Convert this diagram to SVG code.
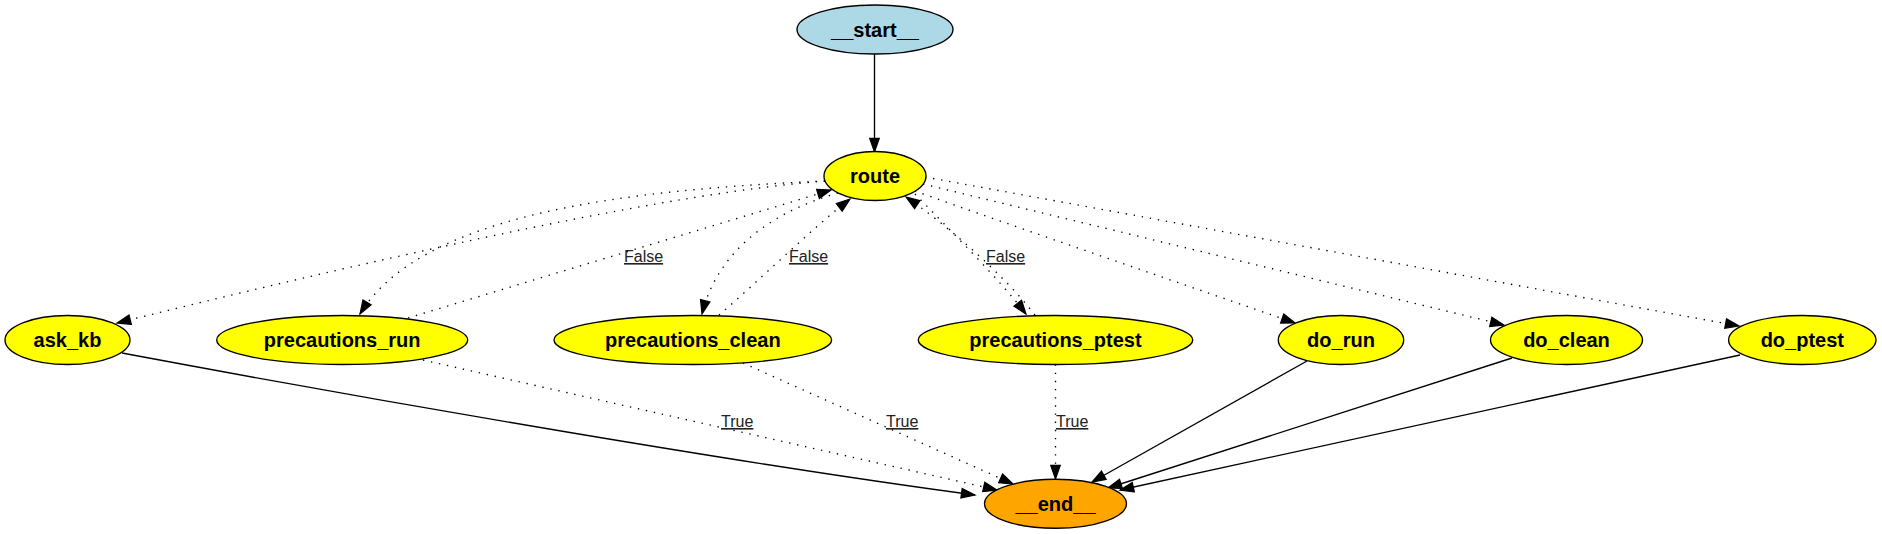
<svg xmlns="http://www.w3.org/2000/svg" width="1882" height="534" viewBox="0 0 1882 534">
<style>
.node ellipse{stroke:#000;stroke-width:1.36}
.node text{font-family:"Liberation Sans",Arial,sans-serif;font-weight:bold;font-size:20px;text-anchor:middle;fill:#000}
.e{fill:none;stroke:#000;stroke-width:1.36}
.d{stroke-dasharray:1.36,6.8}
.lbl{font-family:"Liberation Sans",Arial,sans-serif;font-size:16px;fill:#222;text-decoration:underline}
</style>
<defs>
<marker id="ah" markerUnits="userSpaceOnUse" markerWidth="16" markerHeight="12" refX="13.6" refY="5.5" orient="auto" overflow="visible">
<path d="M0,0.7 L13.6,5.5 L0,10.3 z" fill="#000" stroke="#000" stroke-width="1.2"/>
</marker>
</defs>
<rect width="1882" height="534" fill="#fff"/>
<g id="connectors">
<path class="e" d="M874.5,54 L874.5,152" marker-end="url(#ah)"/>
<path class="e d" d="M825,181 C680,192 420,248 117,323" marker-end="url(#ah)"/>
<path class="e d" d="M825,181 C620,190 420,215 360,314" marker-end="url(#ah)"/>
<path class="e d" d="M408,318 L831,190" marker-end="url(#ah)"/>
<path class="e d" d="M838,193 C760,215 715,260 702,314" marker-end="url(#ah)"/>
<path class="e d" d="M719,315 C760,280 810,230 850,199" marker-end="url(#ah)"/>
<path class="e d" d="M915,194 C950,230 1000,280 1026,314" marker-end="url(#ah)"/>
<path class="e d" d="M1035,315 C1000,270 940,220 906,197" marker-end="url(#ah)"/>
<path class="e d" d="M915,191 C1010,225 1200,290 1295,323" marker-end="url(#ah)"/>
<path class="e d" d="M923,184 L1504,325" marker-end="url(#ah)"/>
<path class="e d" d="M925,177 L1739,326" marker-end="url(#ah)"/>
<path class="e" d="M122,353 C400,405 750,465 975,495" marker-end="url(#ah)"/>
<path class="e d" d="M423,360 L997,490" marker-end="url(#ah)"/>
<path class="e d" d="M743,363 L1013,484" marker-end="url(#ah)"/>
<path class="e d" d="M1055.5,364.5 L1055.5,479" marker-end="url(#ah)"/>
<path class="e" d="M1307,361 L1092,482" marker-end="url(#ah)"/>
<path class="e" d="M1512,358 L1108,488" marker-end="url(#ah)"/>
<path class="e" d="M1740,355 L1120,490" marker-end="url(#ah)"/>
<text class="lbl" x="624" y="262">False</text>
<text class="lbl" x="789" y="262">False</text>
<text class="lbl" x="986" y="262">False</text>
<text class="lbl" x="721" y="427">True</text>
<text class="lbl" x="886" y="427">True</text>
<text class="lbl" x="1056" y="427">True</text>
</g>
<g id="start" class="node"><ellipse cx="875" cy="29.5" rx="78" ry="24.5" fill="#add8e6"/><text x="875" y="36.5">__start__</text></g>
<g id="route" class="node"><ellipse cx="875" cy="176" rx="51" ry="24.5" fill="#ffff00"/><text x="875" y="183">route</text></g>
<g id="ask_kb" class="node"><ellipse cx="67.5" cy="340" rx="62.5" ry="24.5" fill="#ffff00"/><text x="67.5" y="347">ask_kb</text></g>
<g id="precautions_run" class="node"><ellipse cx="342.2" cy="340" rx="125.5" ry="24.5" fill="#ffff00"/><text x="342.2" y="347">precautions_run</text></g>
<g id="precautions_clean" class="node"><ellipse cx="692.8" cy="340" rx="138.8" ry="24.5" fill="#ffff00"/><text x="692.8" y="347">precautions_clean</text></g>
<g id="precautions_ptest" class="node"><ellipse cx="1055.5" cy="340" rx="137.2" ry="24.5" fill="#ffff00"/><text x="1055.5" y="347">precautions_ptest</text></g>
<g id="do_run" class="node"><ellipse cx="1341" cy="340" rx="62.7" ry="24.5" fill="#ffff00"/><text x="1341" y="347">do_run</text></g>
<g id="do_clean" class="node"><ellipse cx="1566.5" cy="340" rx="76" ry="24.5" fill="#ffff00"/><text x="1566.5" y="347">do_clean</text></g>
<g id="do_ptest" class="node"><ellipse cx="1802.3" cy="340" rx="73.7" ry="24.5" fill="#ffff00"/><text x="1802.3" y="347">do_ptest</text></g>
<g id="end" class="node"><ellipse cx="1055.5" cy="503.8" rx="71" ry="24.5" fill="#ffa500"/><text x="1055.5" y="510.8">__end__</text></g>
</svg>
